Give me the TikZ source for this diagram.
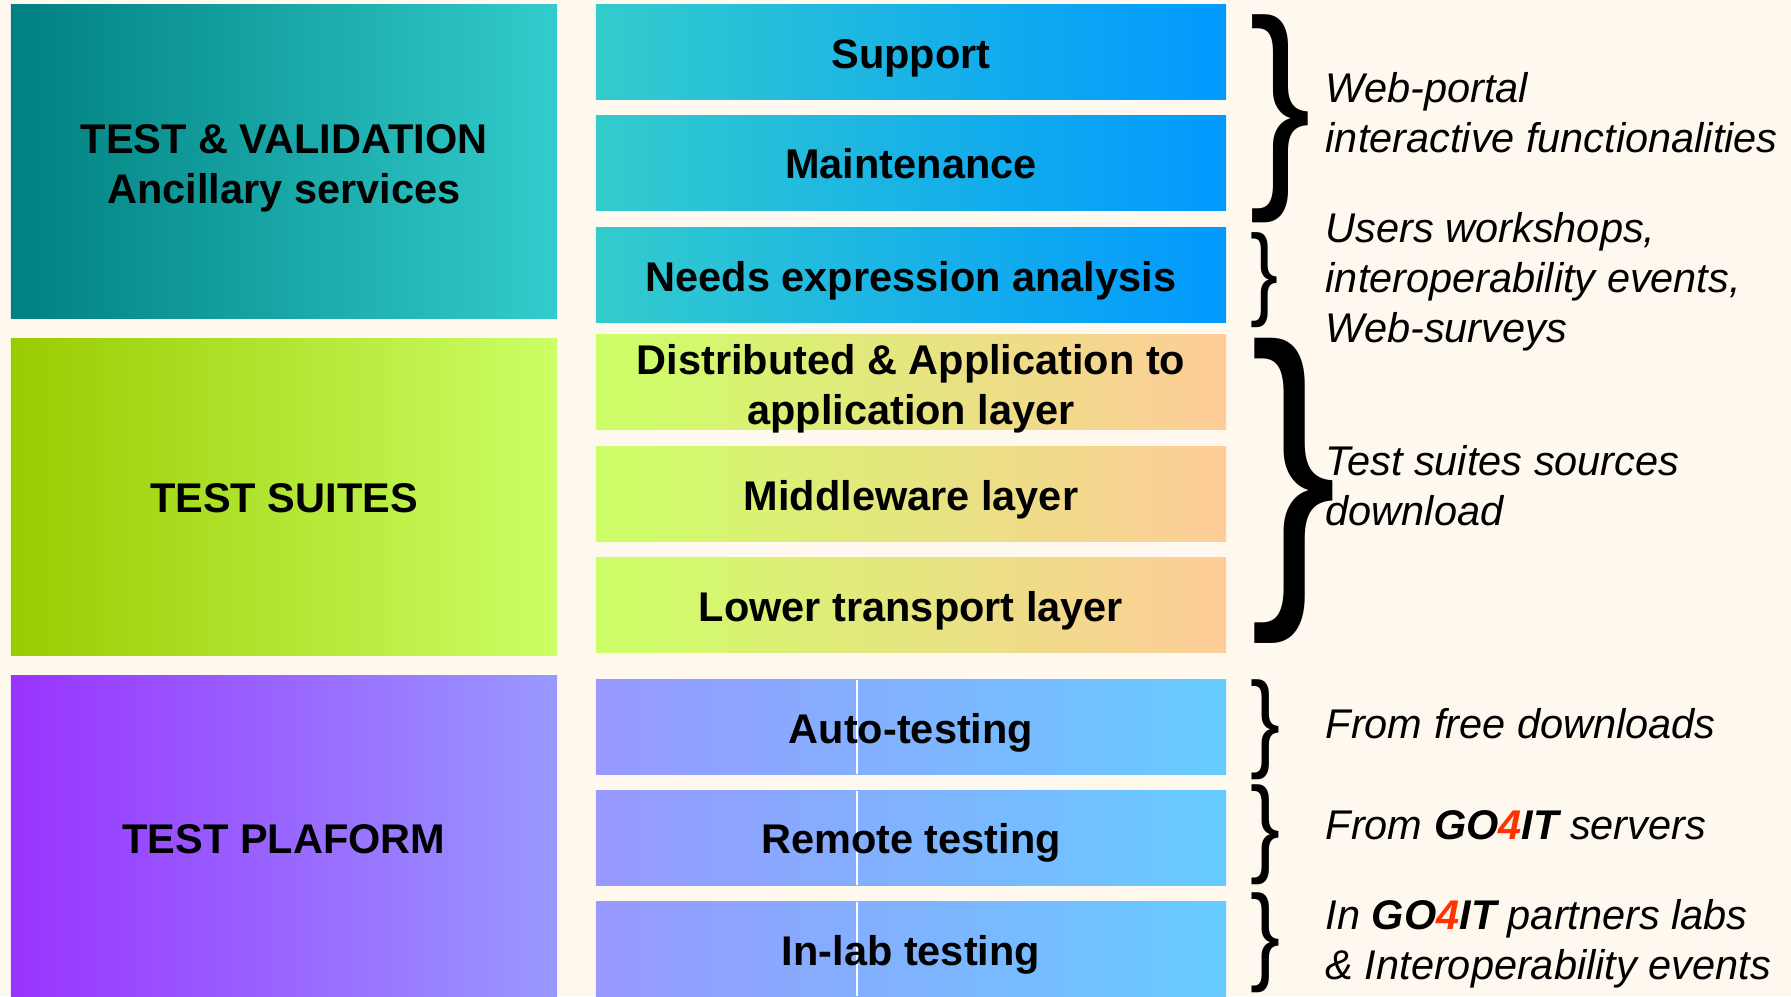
\documentclass[tikz,border=0pt]{standalone}
\usepackage{fontspec}
\setmainfont{Liberation Sans}
\usepackage{graphicx}
\definecolor{cream}{HTML}{FFF8EE}
\definecolor{tealdark}{HTML}{008080}
\definecolor{tealmid}{HTML}{33CCCC}
\definecolor{skyblue}{HTML}{0099FF}
\definecolor{limedark}{HTML}{99CC00}
\definecolor{limelight}{HTML}{CCFF66}
\definecolor{peach}{HTML}{FFCC99}
\definecolor{purpledark}{HTML}{9933FF}
\definecolor{lavender}{HTML}{9999FF}
\definecolor{lightsky}{HTML}{66CCFF}
\definecolor{goRed}{HTML}{FF3300}
\def\gofour{\textbf{GO\textcolor{goRed}{4}IT}}
\tikzset{
	block/.style={minimum width=5.46cm, inner sep=0pt, outer sep=0pt},
	layer/.style={minimum width=6.30cm, minimum height=0.94cm, inner sep=0pt, outer sep=0pt},
	caption/.style={inner sep=0pt, align=center, font=\fontsize{11.8}{14.2}\selectfont\bfseries},
	note/.style={anchor=west, inner sep=0pt, align=left, font=\fontsize{11.8}{14.2}\selectfont\itshape},
	curly/.style={anchor=north west, inner sep=0pt, outer sep=0pt},
	seam/.style={path picture={\draw[white, line width=0.6pt] ([xshift=-0.54cm]path picture bounding box.north) -- ([xshift=-0.54cm]path picture bounding box.south);}}
}

\begin{document}
\begin{tikzpicture}[x=0.01cm, y=-0.01cm]
		%%%%% START %%%%%
		
		\useasboundingbox (0, 0) rectangle (1791, 996);
		\fill[cream] (0, 0) rectangle (1791, 996);
		
		% left column
		\node[block, minimum height=3.13cm, left color=tealdark, right color=tealmid] (valid) at (284, 161.5) {};
		\node[block, minimum height=3.16cm, left color=limedark, right color=limelight] (suites) at (284, 497) {};
		\node[block, minimum height=3.20cm, left color=purpledark, right color=lavender] (platform) at (284, 836) {};
		
		\node[caption, yshift=-0.07cm] (validText) at (valid) {TEST \& VALIDATION\\Ancillary services};
		\node[caption, yshift=-0.01cm] (suitesText) at (suites) {TEST SUITES};
		\node[caption, yshift=-0.035cm] (platformText) at (platform) {TEST PLAFORM};
		
		% middle column
		\node[layer, left color=tealmid, right color=skyblue] (support) at (911, 52) {};
		\node[layer, left color=tealmid, right color=skyblue] (maint) at (911, 163) {};
		\node[layer, left color=tealmid, right color=skyblue] (needs) at (911, 275) {};
		
		\node[layer, left color=limelight, right color=peach] (distrib) at (911, 382) {};
		\node[layer, left color=limelight, right color=peach] (middle) at (911, 494) {};
		\node[layer, left color=limelight, right color=peach] (lower) at (911, 605) {};
		
		\node[layer, seam, left color=lavender, right color=lightsky] (auto) at (911, 727) {};
		\node[layer, seam, left color=lavender, right color=lightsky] (remote) at (911, 838) {};
		\node[layer, seam, left color=lavender, right color=lightsky] (inlab) at (911, 949) {};
		
		\node[caption, yshift=-0.06cm] (supportText) at (support) {Support};
		\node[caption, yshift=-0.01cm] (maintText) at (maint) {Maintenance};
		\node[caption, yshift=-0.06cm] (needsText) at (needs) {Needs expression analysis};
		\node[caption, yshift=-0.07cm] (distribText) at (distrib) {Distributed \& Application to\\application layer};
		\node[caption, yshift=-0.06cm] (middleText) at (middle) {Middleware layer};
		\node[caption, yshift=-0.06cm] (lowerText) at (lower) {Lower transport layer};
		\node[caption, yshift=-0.06cm] (autoText) at (auto) {Auto-testing};
		\node[caption, yshift=-0.05cm] (remoteText) at (remote) {Remote testing};
		\node[caption, yshift=-0.06cm] (inlabText) at (inlab) {In-lab testing};
		
		% braces
		\node[curly] (brWeb) at (1249, 15) {\resizebox*{0.62cm}{2.08cm}{\}}};
		\node[curly] (brUsers) at (1250, 233) {\resizebox*{0.28cm}{0.95cm}{\}}};
		\node[curly] (brSources) at (1250, 338) {\resizebox*{0.87cm}{3.05cm}{\}}};
		\node[curly] (brFree) at (1250, 680) {\resizebox*{0.30cm}{1.00cm}{\}}};
		\node[curly] (brServers) at (1250, 785) {\resizebox*{0.30cm}{1.00cm}{\}}};
		\node[curly] (brLabs) at (1250, 893) {\resizebox*{0.30cm}{1.00cm}{\}}};
		
		% right column
		\node[note] (webportal) at (1325, 113) {Web-portal\\interactive functionalities};
		\node[note] (workshops) at (1325, 281.5) {Users workshops,\\interoperability events,\\Web-surveys};
		\node[note] (sources) at (1325, 485.5) {Test suites sources\\download};
		\node[note] (free) at (1325, 724) {From free downloads};
		\node[note] (servers) at (1325, 825) {From \gofour{} servers};
		\node[note] (labs) at (1325, 944) {In \gofour{} partners labs\\\& Interoperability events};
		
		%%%%% END %%%%%
	\end{tikzpicture}
\end{document}
